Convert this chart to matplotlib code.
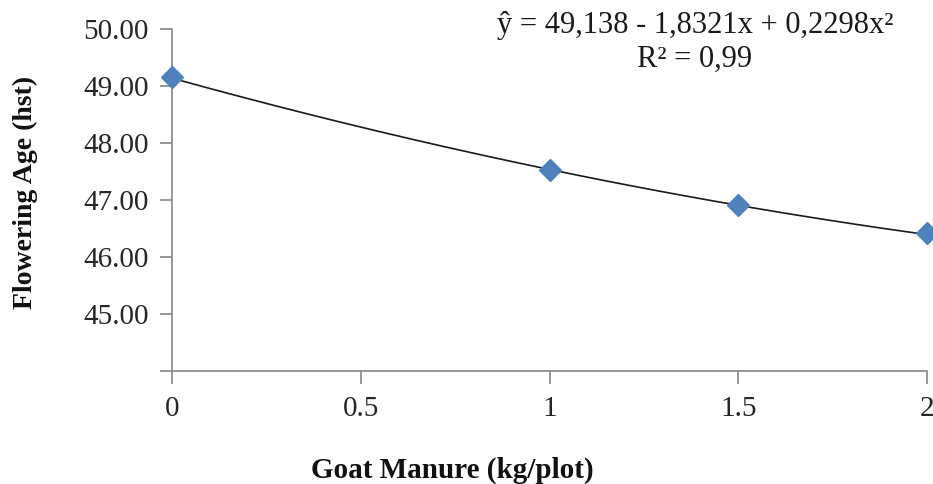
import numpy as np
import matplotlib
matplotlib.use("Agg")
import matplotlib.pyplot as plt

# Data
manure = [0, 1, 1.5, 2]
flowering_age = [49.15, 47.53, 46.92, 46.42]
trend_coef = [49.138, -1.8321, 0.2298]  # from displayed equation
x_ticks = [0, 0.5, 1, 1.5, 2]
x_tick_labels = ["0", "0.5", "1", "1.5", "2"]
y_ticks = [44, 45, 46, 47, 48, 49, 50]
y_tick_labels = ["", "45.00", "46.00", "47.00", "48.00", "49.00", "50.00"]

plt.rcParams['font.family'] = ['Liberation Serif', 'DejaVu Serif']

fig = plt.figure(figsize=(9.33, 4.84), dpi=100)
ax = fig.add_axes([0.1844, 0.2335, 0.8092, 0.7065])

xs = np.linspace(0, 2, 200)
ys = trend_coef[0] + trend_coef[1] * xs + trend_coef[2] * xs ** 2
ax.plot(xs, ys, color='#1a1a1a', lw=1.2, zorder=2)
ax.plot(manure, flowering_age, linestyle='none', marker='D', markersize=11,
        color='#4F81BD', markeredgecolor='#4F81BD', zorder=3, clip_on=False)

ax.set_xlim(0, 2)
ax.set_ylim(44, 50)
ax.set_xticks(x_ticks)
ax.set_xticklabels(x_tick_labels)
ax.set_yticks(y_ticks)
ax.set_yticklabels(y_tick_labels)

for s in ['top', 'right']:
    ax.spines[s].set_visible(False)
for s in ['left', 'bottom']:
    ax.spines[s].set_color('#868686')
    ax.spines[s].set_linewidth(1.2)
ax.tick_params(axis='both', colors='#868686', labelcolor='#262626',
               direction='out', length=9, width=1.2, labelsize=21)
ax.tick_params(axis='x', pad=9)
ax.tick_params(axis='y', pad=8)

fig.text(25 / 933, 0.603, "Flowering Age (hst)", rotation=90, ha='center', va='center',
         fontsize=20, fontweight='bold', color='#111111')
fig.text(452 / 933, 0.029, "Goat Manure (kg/plot)", ha='center', va='center',
         fontsize=21, fontweight='bold', color='#111111')

fig.text(695 / 933, 1 - 25 / 484, "ŷ = 49,138 - 1,8321x + 0,2298x²", ha='center', va='center',
         fontsize=22, color='#1a1a1a')
fig.text(695 / 933, 1 - 59 / 484, "R² = 0,99", ha='center', va='center',
         fontsize=22, color='#1a1a1a')

fig.savefig("out.png", dpi=100)
